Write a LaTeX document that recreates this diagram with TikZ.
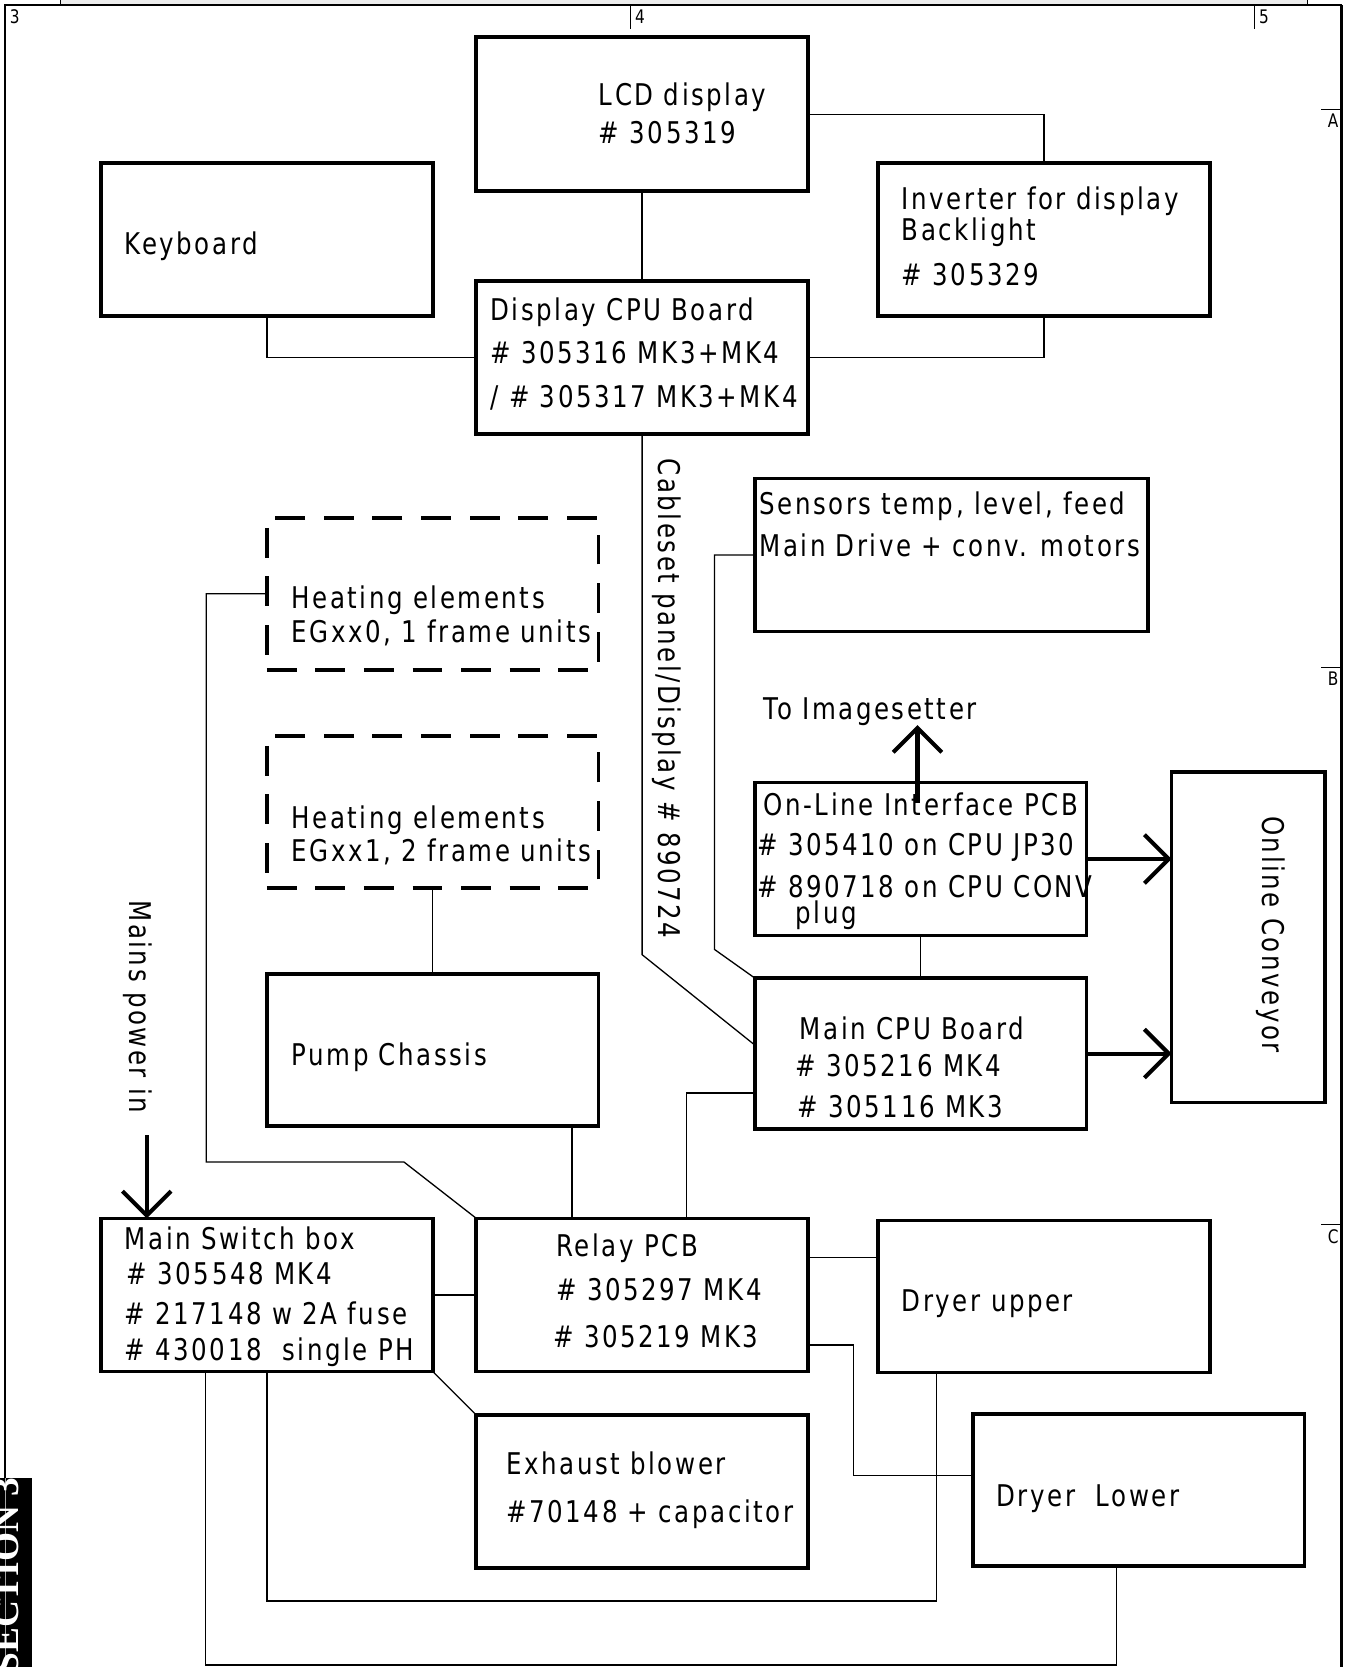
\documentclass[tikz,border=0pt]{standalone}
\usepackage{fontspec}
\setmainfont{DejaVu Sans}[FakeStretch=0.82, LetterSpace=8.5]
\newfontfamily\secfont{Liberation Serif}
\usetikzlibrary{arrows.meta,fit}
\tikzset{
  box/.style={draw, line width=2pt, inner sep=0pt, outer sep=0pt, line join=miter},
  dbox/.style={box, dash pattern=on 16pt off 10pt},
  wire/.style={line width=0.7pt},
  lbl/.style={anchor=base west, inner sep=0pt, font=\fontsize{16}{19}\selectfont},
  rlbl/.style={inner sep=0pt, rotate=-90, font=\fontsize{16}{19}\selectfont},
  bigarrow/.style={line width=2.2pt, -{Straight Barb[length=13pt, width=26pt]}},
  tick/.style={line width=0.8pt},
  ticklbl/.style={inner sep=0pt, font=\fontsize{10}{11}\selectfont}
}
\begin{document}
\begin{tikzpicture}[x=0.02cm, y=-0.02cm]
\useasboundingbox (0,0) rectangle (1266,1568);
\begin{scope}
\clip (0,0) rectangle (1266,1568);
% top strip
\fill[gray!15] (57,0) rectangle (1230,5);
\draw[tick] (57,0) -- (57,5);
\draw[tick] (1230,0) -- (1230,5);
% frame
\draw[line width=1.2pt] (5,1568) -- (5,5) -- (1262,5);
\draw[line width=1.8pt] (1262,5) -- (1262,1568);
% SECTION tab
\fill[black] (0,1390) rectangle (30,1568);
\draw[gray!70, line width=0.8pt] (5,1390) -- (5,1568);
\node[rotate=90, text=white, inner sep=0pt, font=\secfont\bfseries\fontsize{20}{20}\selectfont] (sect) at (6,1482) {SECTION 3};
\draw[tick] (593,5) -- (593,27);
\draw[tick] (1180,5) -- (1180,27);
\draw[tick] (1243,103) -- (1262,103);
\draw[tick] (1243,628) -- (1262,628);
\draw[tick] (1243,1152) -- (1262,1152);
\node[ticklbl, anchor=north west] (t3) at (9,9) {3};
\node[ticklbl, anchor=north west] (t4) at (597,9) {4};
\node[ticklbl, anchor=north west] (t5) at (1184,9) {5};
\node[ticklbl, anchor=north] (tA) at (1254,107) {A};
\node[ticklbl, anchor=north] (tB) at (1254,632) {B};
\node[ticklbl, anchor=north] (tC) at (1254,1156) {C};
\end{scope}

% boxes
\node[box, fit={(448,35) (760,180)}] (lcd) {};
\node[box, fit={(95,153) (407,297)}] (kbd) {};
\node[box, fit={(826,153) (1138,297)}] (inv) {};
\node[box, fit={(448,264) (760,408)}] (dcpu) {};
\node[box, fit={(710,450) (1080,594)}] (sens) {};
\node[dbox, fit={(251,487) (563,630)}] (heat0) {};
\node[dbox, fit={(251,692) (563,835)}] (heat1) {};
\node[box, fit={(710,736) (1022,880)}] (onl) {};
\node[box, fit={(1102,726) (1246,1037)}] (conv) {};
\node[box, fit={(251,916) (563,1059)}] (pump) {};
\node[box, fit={(710,920) (1022,1062)}] (mcpu) {};
\node[box, fit={(95,1146) (407,1290)}] (msw) {};
\node[box, fit={(448,1146) (760,1290)}] (relay) {};
\node[box, fit={(826,1148) (1138,1291)}] (dryu) {};
\node[box, fit={(448,1331) (760,1475)}] (exh) {};
\node[box, fit={(915,1330) (1227,1473)}] (dryl) {};

% texts
\node[lbl] (lcd1) at (563,99) {LCD display};
\node[lbl] (lcd2) at (563,135) {\# 305319};
\node[lbl] (kbd1) at (117,239) {Keyboard};
\node[lbl] (inv1) at (848,197) {Inverter for display};
\node[lbl] (inv2) at (848,226) {Backlight};
\node[lbl] (inv3) at (848,269) {\# 305329};
\node[lbl] (dcpu1) at (461,301) {Display CPU Board};
\node[lbl] (dcpu2) at (461,342) {\# 305316 MK3+MK4};
\node[lbl] (dcpu3) at (461,383) {/ \# 305317 MK3+MK4};
\node[lbl] (sens1) at (714,484) {Sensors temp, level, feed};
\node[lbl] (sens2) at (714,523) {Main Drive + conv. motors};
\node[lbl] (heat01) at (274,572) {Heating elements};
\node[lbl] (heat02) at (274,604) {EGxx0, 1 frame units};
\node[lbl] (heat11) at (274,779) {Heating elements};
\node[lbl] (heat12) at (274,810) {EGxx1, 2 frame units};
\node[lbl] (imgs) at (718,677) {To Imagesetter};
\node[lbl] (onl1) at (718,767) {On-Line Interface PCB};
\node[lbl] (onl2) at (712,805) {\# 305410 on CPU JP30};
\node[lbl] (onl3) at (712,844) {\# 890718 on CPU CONV};
\node[lbl] (onl4) at (748,869) {plug};
\node[lbl] (pump1) at (274,1002) {Pump Chassis};
\node[lbl] (mcpu1) at (752,978) {Main CPU Board};
\node[lbl] (mcpu2) at (748,1013) {\# 305216 MK4};
\node[lbl] (mcpu3) at (750,1051) {\# 305116 MK3};
\node[lbl] (msw1) at (117,1175) {Main Switch box};
\node[lbl] (msw2) at (119,1208) {\# 305548 MK4};
\node[lbl] (msw3) at (117,1246) {\# 217148 w 2A fuse};
\node[lbl] (msw4) at (117,1280) {\# 430018 \ single PH};
\node[lbl] (rel1) at (523,1182) {Relay PCB};
\node[lbl] (rel2) at (523,1223) {\# 305297 MK4};
\node[lbl] (rel3) at (520,1267) {\# 305219 MK3};
\node[lbl] (dryu1) at (848,1234) {Dryer upper};
\node[lbl] (exh1) at (476,1387) {Exhaust blower};
\node[lbl] (exh2) at (476,1432) {\#70148 + capacitor};
\node[lbl] (dryl1) at (937,1417) {Dryer \ Lower};
\node[rlbl] (cable) at (627,657) {Cableset panel/Display \# 890724};
\node[rlbl] (mains) at (130,947) {Mains power in};
\node[rlbl] (convt) at (1195,879) {Online Conveyor};

% coordinates for wires
\coordinate (cA) at (604,898);
\coordinate (cB) at (710,983);
\coordinate (sA) at (672,522);
\coordinate (sB) at (672,893);
\coordinate (hA) at (194,1093);
\coordinate (hB) at (380,1093);
\coordinate (pA) at (538,1059);
\coordinate (mA) at (646,1028);
\coordinate (rA) at (760,1183);
\coordinate (rB) at (760,1265);
\coordinate (rC) at (803,1265);
\coordinate (rD) at (803,1388);
\coordinate (wA) at (251,1506);
\coordinate (wB) at (881,1506);
\coordinate (wC) at (193,1566);
\coordinate (wD) at (1050,1566);
\coordinate (mainsTop) at (138,1068);
\coordinate (imgStart) at (863,755);
\coordinate (imgTip) at (863,682);

% wires
\draw[wire] (lcd.east) -| (inv.north);
\draw[wire] (lcd.south) -- (dcpu.north);
\draw[wire] (kbd.south) |- (dcpu.west);
\draw[wire] (dcpu.east) -| (inv.south);
\draw[wire] (dcpu.south) -- (cA) -- (cB);
\draw[wire] (sens.west) -- (sA) -- (sB) -- (mcpu.north west);
\draw[wire] (heat0.west) -| (hA) -- (hB) -- (relay.north west);
\draw[wire] (heat1.south) -- (pump.north);
\draw[wire] (pA) -- (pA |- relay.north);
\draw[wire] (mA -| mcpu.west) -- (mA) -- (mA |- relay.north);
\draw[wire] (onl.south) -- (mcpu.north);
\draw[wire] (msw.east) -- (relay.west);
\draw[wire] (rA) -- (rA -| dryu.west);
\draw[wire] (rB) -- (rC) -- (rD) -- (rD -| dryl.west);
\draw[wire] (msw.south east) -- (exh.north west);
\draw[wire] (wA |- msw.south) -- (wA) -- (wB) -- (wB |- dryu.south);
\draw[wire] (wC |- msw.south) -- (wC) -- (wD) -- (wD |- dryl.south);

% arrows
\draw[bigarrow] (mainsTop) -- (mainsTop |- msw.north);
\draw[bigarrow] (imgStart) -- (imgTip);
\draw[bigarrow] (onl.east) -- (onl.east -| conv.west);
\draw[bigarrow] (mcpu.east) -- (mcpu.east -| conv.west);
\end{tikzpicture}
\end{document}
